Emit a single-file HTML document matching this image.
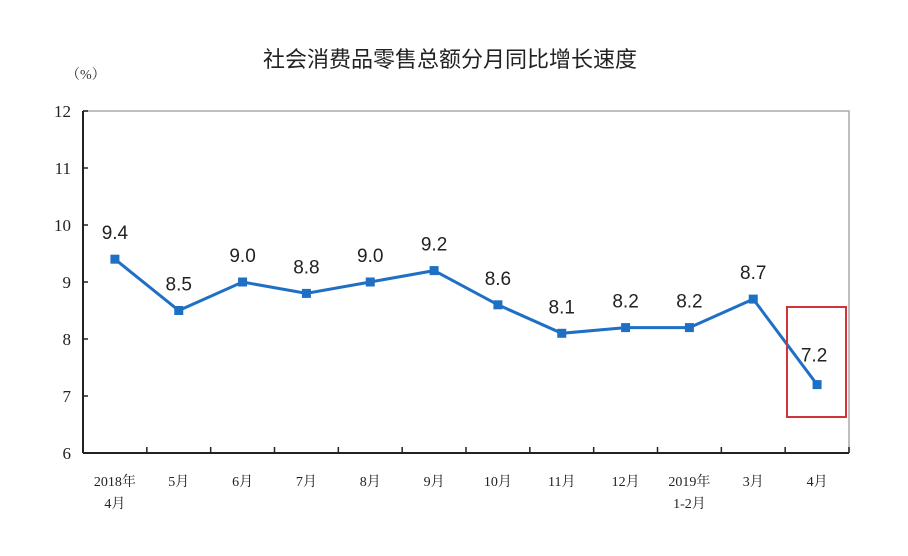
<!DOCTYPE html>
<html><head><meta charset="utf-8"><style>
body{margin:0;background:#fff;}
svg{display:block;font-family:"Liberation Serif","Noto Serif CJK SC","Noto Sans CJK SC",serif;}
</style></head><body>
<svg id="chart" width="908" height="556" viewBox="0 0 908 556" xmlns="http://www.w3.org/2000/svg">
<rect width="908" height="556" fill="#fff"/>
<text x="450" y="67" text-anchor="middle" font-size="22" fill="#222" font-family="'Noto Sans CJK SC',sans-serif">社会消费品零售总额分月同比增长速度</text>
<text x="66" y="79" font-size="14" fill="#333">（%）</text>
<g id="axes"></g>
<g id="series"></g>
<rect x="787" y="307" width="59" height="110" fill="none" stroke="#d0343a" stroke-width="2"/>
</svg>
<script>
const categories=["2018年|4月","5月","6月","7月","8月","9月","10月","11月","12月","2019年|1-2月","3月","4月"];
const values=[9.4,8.5,9.0,8.8,9.0,9.2,8.6,8.1,8.2,8.2,8.7,7.2];
const labels=["9.4","8.5","9.0","8.8","9.0","9.2","8.6","8.1","8.2","8.2","8.7","7.2"];
const yTicks=[6,7,8,9,10,11,12];
const NS="http://www.w3.org/2000/svg";
const L=83,R=849,T=111,B=453,yMin=6,yMax=12;
const band=(R-L)/categories.length;
const x=i=>L+band*(i+0.5);
const y=v=>B-(v-yMin)/(yMax-yMin)*(B-T);
function mk(tag,attrs,parent){const e=document.createElementNS(NS,tag);for(const k in attrs)e.setAttribute(k,attrs[k]);parent.appendChild(e);return e;}
const ax=document.getElementById('axes'),se=document.getElementById('series');
let fr=mk('path',{d:`M${L},${T}H${R}V${B}`,fill:'none',stroke:'#aaa','stroke-width':1.5},ax);


let ya=mk('line',{x1:L,y1:T,x2:L,y2:B,stroke:'#222','stroke-width':2},ax);


let xa=mk('line',{x1:L,y1:B,x2:R,y2:B,stroke:'#222','stroke-width':2},ax);


yTicks.forEach(t=>{
 let tk=mk('line',{x1:L,y1:y(t),x2:L+5,y2:y(t),stroke:'#222','stroke-width':1.5},ax);
 
 
 let tl=mk('text',{x:L-12,y:y(t)+6,'text-anchor':'end','font-size':17,fill:'#222'},ax);
 
 
 tl.textContent=t;
});
categories.forEach((c,i)=>{
 let tk=mk('line',{x1:L+band*(i+1),y1:B,x2:L+band*(i+1),y2:B-6,stroke:'#222','stroke-width':1.5},ax);
 
 
 c.split('|').forEach((part,j)=>{
  let tl=mk('text',{x:x(i),y:B+33+j*22,'text-anchor':'middle','font-size':14,fill:'#222'},ax);
  
  
  tl.textContent=part;
 });
});
let ln=mk('polyline',{points:values.map((v,i)=>x(i)+','+y(v)).join(' '),fill:'none',stroke:'#1f6fc5','stroke-width':3},se);


values.forEach((v,i)=>{
 let p=mk('rect',{x:x(i)-4.5,y:y(v)-4.5,width:9,height:9,fill:'#1f6fc5'},se);
 
 
 let dy=i===values.length-1?-23:-20;
 let tl=mk('text',{x:x(i)+(i===values.length-1?-3:0),y:y(v)+dy,'text-anchor':'middle','font-size':19,fill:'#222','font-family':"'Liberation Sans',sans-serif"},se);
 
 
 tl.textContent=labels[i];
});
</script>
</body></html>
